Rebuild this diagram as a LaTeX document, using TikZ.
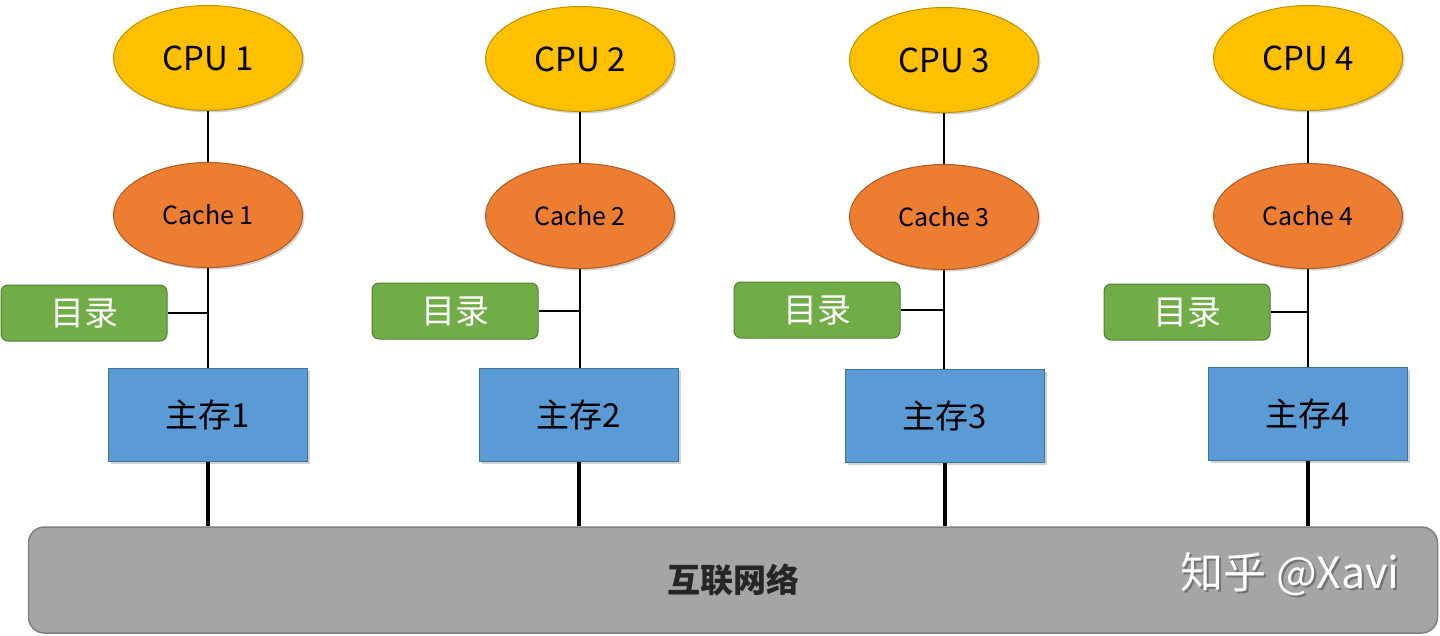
\documentclass[tikz,border=0pt]{standalone}
\usepackage{fontspec}
\setmainfont{Noto Sans CJK SC}
\usetikzlibrary{shapes.geometric,shadows}
\definecolor{cpuf}{HTML}{FFC000}
\definecolor{cpud}{HTML}{BF9000}
\definecolor{cacf}{HTML}{ED7D31}
\definecolor{cacd}{HTML}{AE5A21}
\definecolor{dirf}{HTML}{70AD47}
\definecolor{dird}{HTML}{507E32}
\definecolor{memf}{HTML}{5B9BD5}
\definecolor{memd}{HTML}{41719C}
\definecolor{barf}{HTML}{A5A5A5}
\definecolor{bard}{HTML}{7F7F7F}
\tikzset{
  shd/.style={drop shadow={shadow xshift=2pt,shadow yshift=-2pt,opacity=0.3,fill=black!60}},
  cpu/.style={ellipse,draw=cpud,fill=cpuf,line width=1pt,minimum width=189pt,minimum height=105pt,inner sep=0pt,shd,font=\fontsize{33}{36}\selectfont},
  cachebox/.style={ellipse,draw=cacd,fill=cacf,line width=1pt,minimum width=189pt,minimum height=105pt,inner sep=0pt,shd,font=\fontsize{25}{28}\selectfont},
  dirbox/.style={rectangle,rounded corners=7pt,draw=dird,fill=dirf,line width=1pt,minimum width=166pt,minimum height=56pt,inner sep=0pt,text=white,font=\fontsize{34}{36}\selectfont},
  membox/.style={rectangle,draw=memd,fill=memf,line width=1pt,minimum width=199pt,minimum height=93pt,inner sep=0pt,shd,font=\fontsize{33}{36}\selectfont},
  thin/.style={line width=1.3pt,black},
  mid/.style={line width=2.4pt,black},
  thick/.style={line width=4pt,black},
  wmark/.style={font=\fontsize{43}{46}\selectfont}
}
\begin{document}
\begin{tikzpicture}[x=1pt,y=-1pt]
\useasboundingbox (0,0) rectangle (1440,635);
\node[rectangle,rounded corners=16pt,draw=bard,fill=barf,line width=1.5pt,minimum width=1409pt,minimum height=106pt,inner sep=0pt,text=black!85,font=\fontsize{33}{36}\selectfont\bfseries] (bar) at (733,580) {互联网络};
\node[wmark,text=black!55] (wms) at (1292,576) {知乎 @Xavi};
\node[wmark,text=white] (wm) at (1290,574) {知乎 @Xavi};
% column 1
\node[cpu] (p1) at (208,58) {CPU 1};
\node[cachebox] (c1) at (208,215) {Cache 1};
\node[dirbox] (d1) at (84,313) {目录};
\node[membox] (m1) at (208,415) {主存1};
% column 2
\node[cpu] (p2) at (580,59) {CPU 2};
\node[cachebox] (c2) at (580,216) {Cache 2};
\node[dirbox] (d2) at (455,311) {目录};
\node[membox] (m2) at (579,415) {主存2};
% column 3
\node[cpu] (p3) at (944,60) {CPU 3};
\node[cachebox] (c3) at (944,217) {Cache 3};
\node[dirbox] (d3) at (817,310) {目录};
\node[membox] (m3) at (945,416) {主存3};
% column 4
\node[cpu] (p4) at (1308,58) {CPU 4};
\node[cachebox] (c4) at (1308,216) {Cache 4};
\node[dirbox] (d4) at (1187,312) {目录};
\node[membox] (m4) at (1308,414) {主存4};
\foreach \i in {1,2,3,4}{
  \draw[thin] (p\i.south) -- (c\i.north);
  \draw[mid] (c\i.south) -- (c\i.south |- m\i.north);
  \draw[mid] (d\i.east) -- (d\i.east -| c\i.south);
  \draw[thick] (m\i.south) -- (m\i.south |- bar.north);
}
\end{tikzpicture}
\end{document}
